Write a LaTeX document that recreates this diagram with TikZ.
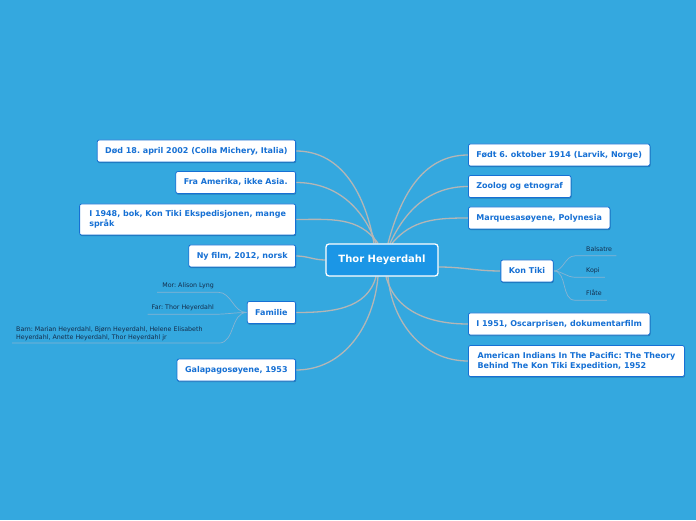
\documentclass[tikz,border=0pt]{standalone}
\usepackage{xcolor}
\usepackage{fontspec}
\setmainfont{DejaVu Sans}
\usetikzlibrary{positioning,backgrounds,shadows}
\definecolor{mapBackBlue}{RGB}{52,168,223}
\definecolor{mapRootBlue}{RGB}{27,150,230}
\definecolor{mapInkBlue}{RGB}{22,112,212}
\definecolor{mapBranchGrey}{RGB}{180,182,182}
\definecolor{mapTwigBlue}{RGB}{135,180,210}
\definecolor{mapLeafInk}{RGB}{20,45,75}
\definecolor{mapShadow}{RGB}{20,80,140}
\colorlet{backblue}{mapBackBlue}
\colorlet{rootblue}{mapRootBlue}
\colorlet{inkblue}{mapInkBlue}
\colorlet{branchgrey}{mapBranchGrey}
\colorlet{twigblue}{mapTwigBlue}
\colorlet{leafink}{mapLeafInk}

\tikzset{
  topic/.style={draw=inkblue,line width=0.8pt,fill=white,rounded corners=2pt,text=inkblue,
    font=\fontsize{8}{10}\selectfont\bfseries\frenchspacing,inner xsep=8pt,minimum height=22pt,
    drop shadow={shadow xshift=0.6pt,shadow yshift=-1.2pt,opacity=0.45,fill=mapShadow}},
  central/.style={draw=white,line width=1.3pt,fill=rootblue,rounded corners=3pt,text=white,
    font=\fontsize{10}{12}\selectfont\bfseries,minimum width=112pt,minimum height=32pt},
  leaf/.style={text=leafink,font=\fontsize{6.3}{7.6}\selectfont\frenchspacing,inner xsep=0pt,inner ysep=2.5pt},
  branch/.style={draw=branchgrey,line width=1.3pt},
  twig/.style={draw=twigblue,line width=0.7pt},
}

\begin{document}
\begin{tikzpicture}[x=1pt,y=1pt]
\useasboundingbox (0,0) rectangle (696,520);
\begin{scope}[on background layer]
\fill[backblue] (0,0) rectangle (696,520);
\end{scope}

% centre
\node[central] (root) at (382,260) {Thor Heyerdahl};

% left side
\node[topic,anchor=east] (died) at (296,369) {Død 18. april 2002 (Colla Michery, Italia)};
\node[topic,anchor=east] (america) at (296,337.5) {Fra Amerika, ikke Asia.};
\node[topic,anchor=east,align=left,minimum width=216pt,minimum height=31pt] (book) at (296,300.5) {I 1948, bok, Kon Tiki Ekspedisjonen, mange\\språk};
\node[topic,anchor=east] (film) at (296,264) {Ny film, 2012, norsk};
\node[topic,anchor=east] (family) at (296,207.5) {Familie};
\node[topic,anchor=east] (galapagos) at (296,150) {Galapagosøyene, 1953};

% right side
\node[topic,anchor=west] (born) at (468,365) {Født 6. oktober 1914 (Larvik, Norge)};
\node[topic,anchor=west] (zoolog) at (468,333.5) {Zoolog og etnograf};
\node[topic,anchor=west] (marquesas) at (468,302) {Marquesasøyene, Polynesia};
\node[topic] (kontiki) at (527,249) {Kon Tiki};
\node[topic,anchor=west] (oscar) at (468,196) {I 1951, Oscarprisen, dokumentarfilm};
\node[topic,anchor=west,align=left,minimum width=216pt,minimum height=31pt] (indians) at (468,159) {American Indians In The Pacific: The Theory\\Behind The Kon Tiki Expedition, 1952};

% leaves
\node[leaf,anchor=west] (balsa) at (586,271) {Balsatre};
\node[leaf,anchor=west] (copy) at (586,249) {Kopi};
\node[leaf,anchor=west] (raft) at (586,227) {Flåte};
\node[leaf,anchor=east] (mother) at (214,234) {Mor: Alison Lyng};
\node[leaf,anchor=east] (father) at (214,212) {Far: Thor Heyerdahl};
\node[leaf,anchor=north west,align=left] (children) at (16,196) {Barn: Marian Heyerdahl, Bjørn Heyerdahl, Helene Elisabeth\\Heyerdahl, Anette Heyerdahl, Thor Heyerdahl jr};

\begin{scope}[on background layer]
\draw[branch] ([xshift=-8pt]root.north) to[out=100,in=0] (died.east);
\draw[branch] ([xshift=-6pt]root.north) to[out=110,in=0] (america.east);
\draw[branch] ([xshift=-4pt]root.north) to[out=125,in=0] (book.east);
\draw[branch] (root.west) to[out=180,in=0] (film.east);
\draw[branch] ([xshift=-6pt]root.south) to[out=-105,in=0] (family.east);
\draw[branch] ([xshift=-4pt]root.south) to[out=-95,in=0] (galapagos.east);
\draw[branch] ([xshift=6pt]root.north) to[out=75,in=180] (born.west);
\draw[branch] ([xshift=8pt]root.north) to[out=65,in=180] (zoolog.west);
\draw[branch] ([xshift=10pt]root.north) to[out=50,in=180] (marquesas.west);
\draw[branch] ([yshift=-7pt]root.east) to[out=0,in=180] (kontiki.west);
\draw[branch] ([xshift=4pt]root.south) to[out=-75,in=180] (oscar.west);
\draw[branch] ([xshift=6pt]root.south) to[out=-85,in=180] (indians.west);
% kon tiki twigs
\draw[twig] (kontiki.east) to[out=0,in=180] ([shift={(-11pt,-4.5pt)}]balsa.base west) -- ([shift={(4pt,-4.5pt)}]balsa.base east);
\draw[twig] (kontiki.east) to[out=0,in=180] ([shift={(-11pt,-4.5pt)}]copy.base west) -- ([shift={(5pt,-4.5pt)}]copy.base east);
\draw[twig] (kontiki.east) to[out=0,in=180] ([shift={(-11pt,-4.5pt)}]raft.base west) -- ([shift={(5pt,-4.5pt)}]raft.base east);
% familie twigs
\draw[twig] (family.west) to[out=180,in=0] ([shift={(4pt,-4.5pt)}]mother.base east) -- ([shift={(-5pt,-4.5pt)}]mother.base west);
\draw[twig] (family.west) to[out=180,in=0] ([shift={(1pt,-4.5pt)}]father.base east) -- ([shift={(-4pt,-4.5pt)}]father.base west);
\draw[twig] (family.west) to[out=180,in=0] ([xshift=16pt]children.south east) -- ([xshift=-4pt]children.south west);
\end{scope}
\end{tikzpicture}
\end{document}
